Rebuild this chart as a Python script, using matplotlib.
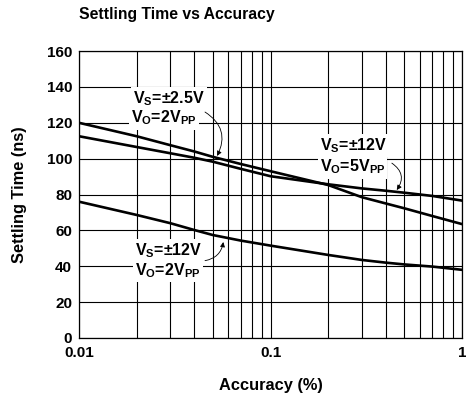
import numpy as np
import matplotlib.pyplot as plt
from matplotlib.ticker import FixedLocator, NullFormatter

plt.rcParams['font.family'] = 'Liberation Sans'
plt.rcParams['font.weight'] = 'bold'
plt.rcParams['mathtext.fontset'] = 'custom'
plt.rcParams['mathtext.rm'] = 'Liberation Sans:bold'
plt.rcParams['mathtext.it'] = 'Liberation Sans:bold'
plt.rcParams['mathtext.bf'] = 'Liberation Sans:bold'

# accuracy (%) and settling time (ns) per supply / output condition
accuracy = [0.01, 0.02, 0.03, 0.04, 0.05, 0.07, 0.1, 0.2, 0.3, 0.4, 0.5, 0.7, 1.0]
ts_25v_2vpp = [120, 112.5, 107.5, 104, 101, 97, 93, 85.3, 78.5, 75, 72.3, 68, 63.5]
ts_12v_5vpp = [112.5, 106.5, 103, 100.5, 98.3, 94.3, 90.2, 85.7, 83.4, 82.1, 81, 79.2, 76.6]
ts_12v_2vpp = [76, 68.6, 64, 60.2, 57.4, 54.3, 51.5, 46.3, 43.5, 42, 41, 39.8, 38]

fig = plt.figure(figsize=(4.66, 3.99), dpi=100)
ax = fig.add_axes([0.1695, 0.153, 0.822, 0.719])

for ts in (ts_25v_2vpp, ts_12v_5vpp, ts_12v_2vpp):
    ax.plot(accuracy, ts, color='black', lw=1.9, solid_joinstyle='round', zorder=3)

ax.set_xscale('log')
ax.set_xlim(0.01, 1)
ax.set_ylim(0, 160)
ax.set_yticks(np.arange(0, 161, 20))
ax.set_xticks([0.01, 0.1, 1])
ax.set_xticklabels(['0.01', '0.1', '1'])
ax.xaxis.set_minor_locator(FixedLocator(
    [m * d for d in (0.01, 0.1) for m in range(2, 10)]))
ax.xaxis.set_minor_formatter(NullFormatter())
ax.tick_params(which='both', length=0, labelsize=11)
ax.tick_params(axis='y', pad=5)
ax.tick_params(axis='x', pad=6)
ax.grid(True, which='both', axis='x', color='black', lw=0.8)
ax.grid(True, which='major', axis='y', color='black', lw=0.8)
for s in ax.spines.values():
    s.set_linewidth(0.9)

ax.set_xlabel('Accuracy (%)', fontsize=11.8, fontweight='bold')
ax.set_ylabel('Settling Time (ns)', fontsize=11.8, fontweight='bold')
ax.xaxis.set_label_coords(0.5, -0.138)
ax.yaxis.set_label_coords(-0.135, 0.5)
fig.text(0.1695, 0.982, 'Settling Time vs Accuracy', fontsize=11.3,
         fontweight='bold', ha='left', va='top')

box = dict(facecolor='white', edgecolor='none', pad=1.5)
lab = dict(fontsize=11.5, ha='left', va='baseline', bbox=box, zorder=4)
ax.text(0.0191, 131, r'V$_\mathrm{S}$=±2.5V', **lab)
ax.text(0.0188, 120, r'V$_\mathrm{O}$=2V$_\mathrm{PP}$', **lab)
ax.text(0.181, 104.8, r'V$_\mathrm{S}$=±12V', **lab)
ax.text(0.181, 92.7, r'V$_\mathrm{O}$=5V$_\mathrm{PP}$', **lab)
ax.text(0.0196, 46.3, r'V$_\mathrm{S}$=±12V', **lab)
ax.text(0.0196, 35, r'V$_\mathrm{O}$=2V$_\mathrm{PP}$', **lab)

arrow = dict(arrowstyle='-|>', color='black', lw=0.6, mutation_scale=7,
             shrinkA=0, shrinkB=0)
ax.annotate('', xy=(0.0526, 101.5), xytext=(0.0455, 126),
            arrowprops=dict(arrow, connectionstyle='arc3,rad=-0.45'), zorder=5)
ax.annotate('', xy=(0.456, 82.5), xytext=(0.43, 97.5),
            arrowprops=dict(arrow, connectionstyle='arc3,rad=-0.5'), zorder=5)
ax.annotate('', xy=(0.0567, 53.5), xytext=(0.0455, 43.1),
            arrowprops=dict(arrow, connectionstyle='arc3,rad=0.35'), zorder=5)

fig.savefig('out.png', dpi=100)
